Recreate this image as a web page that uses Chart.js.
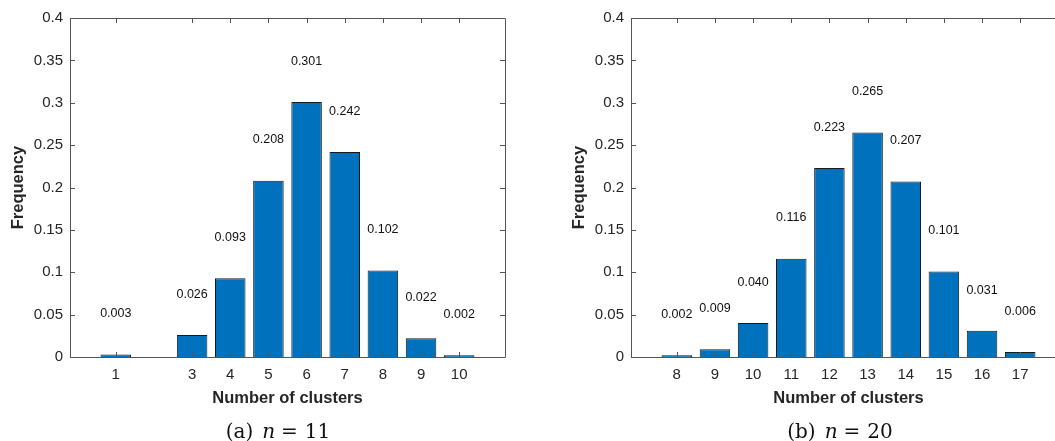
<!DOCTYPE html>
<html>
<head>
<meta charset="utf-8">
<script src="https://cdn.jsdelivr.net/npm/chart.js@4.4.1/dist/chart.umd.min.js"></script>
<style>
html, body { margin: 0; padding: 0; background: #fff; overflow: hidden; width: 1055px; height: 441px; }
.wrap { position: absolute; top: 0; height: 441px; overflow: hidden; }
#wrapA { left: 0; width: 530px; }
#wrapB { left: 561px; width: 494px; }
.cap { position: absolute; top: 420px; line-height: 22px; font-family: "DejaVu Serif", serif; font-size: 20px; color: #111; transform: translateX(-50%); white-space: nowrap; }
.cap i { font-style: italic; margin-left: 9px; }
.cap .eq { margin: 0 7px 0 6px; }
</style>
</head>
<body>
<div class="wrap" id="wrapA"><canvas id="chartA" width="530" height="441"></canvas></div>
<div class="wrap" id="wrapB"><canvas id="chartB" width="530" height="441"></canvas></div>
<div class="cap" style="left:278px">(a)<i>n</i><span class="eq">=</span>11</div>
<div class="cap" style="left:840px">(b)<i>n</i><span class="eq">=</span>20</div>
<script>
// n = 11
const clustersA = [1, 3, 4, 5, 6, 7, 8, 9, 10];
const freqA = [0.003, 0.026, 0.093, 0.208, 0.301, 0.242, 0.102, 0.022, 0.002];
// n = 20
const clustersB = [8, 9, 10, 11, 12, 13, 14, 15, 16, 17];
const freqB = [0.002, 0.009, 0.040, 0.116, 0.223, 0.265, 0.207, 0.101, 0.031, 0.006];

const axisColor = '#262626';

// box around the plot, inward ticks on all sides, value text over the bars
const frameTicks = {
    id: 'frameTicks',
    afterDatasetsDraw(chart) {
        const ctx = chart.ctx;
        const a = chart.chartArea;
        const x = chart.scales.x, y = chart.scales.y;
        ctx.save();
        ctx.strokeStyle = '#555';
        ctx.lineWidth = 1;
        ctx.beginPath();
        ctx.rect(a.left + 0.5, a.top + 0.5, a.right - a.left, a.bottom - a.top);
        x.ticks.forEach(t => {
            let px = Math.round(x.getPixelForValue(t.value)) + 0.5;
            ctx.moveTo(px, a.bottom); ctx.lineTo(px, a.bottom - 5);
            ctx.moveTo(px, a.top); ctx.lineTo(px, a.top + 5);
        });
        y.ticks.forEach(t => {
            let py = Math.round(y.getPixelForValue(t.value)) + 0.5;
            ctx.moveTo(a.left, py); ctx.lineTo(a.left + 5, py);
            ctx.moveTo(a.right, py); ctx.lineTo(a.right - 5, py);
        });
        ctx.stroke();

        ctx.fillStyle = '#111';
        ctx.font = '12.5px "Liberation Sans", Arial, sans-serif';
        ctx.textAlign = 'center';
        ctx.textBaseline = 'middle';
        chart.data.datasets[0].data.forEach(p => {
            ctx.fillText(p.y.toFixed(3), x.getPixelForValue(p.x), y.getPixelForValue(p.y + 0.048));
        });
        ctx.restore();
    }
};

function makeChart(id, clusters, freq, xMin, xMax) {
    let points = clusters.map((c, i) => ({ x: c, y: freq[i] }));
    let ctx = document.getElementById(id).getContext('2d');
    return new Chart(ctx, {
        type: 'bar',
        data: {
            datasets: [{
                data: points,
                backgroundColor: '#0072BD',
                borderColor: '#1a1a1a',
                borderWidth: 1,
                barPercentage: 0.8,
                categoryPercentage: 1
            }]
        },
        options: {
            responsive: false,
            animation: false,
            layout: { padding: { left: 9, top: 18, right: 25, bottom: 33 } },
            plugins: { legend: { display: false }, tooltip: { enabled: false } },
            scales: {
                x: {
                    type: 'linear',
                    offset: false,
                    min: xMin,
                    max: xMax,
                    grid: { display: false, drawTicks: false, offset: false },
                    border: { display: false },
                    afterBuildTicks: s => { s.ticks = clusters.map(v => ({ value: v })); },
                    afterFit: s => { s.height = 51; s.paddingLeft = 0; s.paddingRight = 0; },
                    ticks: {
                        autoSkip: false,
                        maxRotation: 0,
                        padding: 9,
                        color: axisColor,
                        font: { family: '"Liberation Sans", Arial, sans-serif', size: 15 },
                        callback: v => String(v)
                    },
                    title: {
                        display: true,
                        text: 'Number of clusters',
                        color: axisColor,
                        padding: 0,
                        font: { family: '"Liberation Sans", Arial, sans-serif', size: 16.5, weight: 'bold' }
                    }
                },
                y: {
                    min: 0,
                    max: 0.4,
                    grid: { display: false, drawTicks: false },
                    border: { display: false },
                    afterFit: s => { s.width = 61; },
                    ticks: {
                        stepSize: 0.05,
                        padding: 7,
                        color: axisColor,
                        font: { family: '"Liberation Sans", Arial, sans-serif', size: 15 },
                        callback: v => String(+v.toFixed(2))
                    },
                    title: {
                        display: true,
                        text: 'Frequency',
                        color: axisColor,
                        padding: 0,
                        font: { family: '"Liberation Sans", Arial, sans-serif', size: 16.5, weight: 'bold' }
                    }
                }
            }
        },
        plugins: [frameTicks]
    });
}

makeChart('chartA', clustersA, freqA, -0.2, 11.2);
makeChart('chartB', clustersB, freqB, 6.8, 18.2);
</script>
</body>
</html>
